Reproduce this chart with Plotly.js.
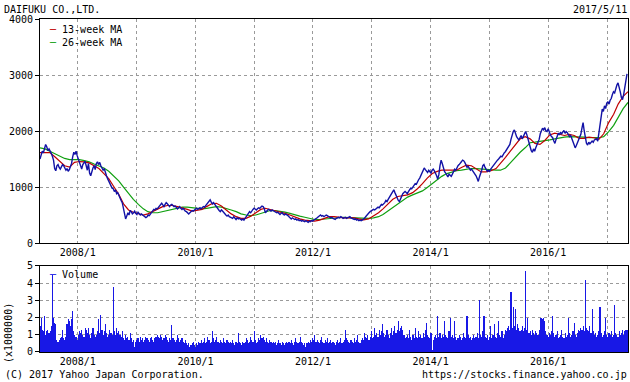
<!DOCTYPE html>
<html><head><meta charset="utf-8">
<script src="https://cdn.plot.ly/plotly-3.0.1.min.js"></script>
<style>html,body{margin:0;padding:0;background:#fff}#chart{width:630px;height:382px}</style>
</head><body><div id="chart"></div>
<script>
const companyName = 'DAIFUKU CO.,LTD.';
const asOfDate = '2017/5/11';
const copyrightText = '(C) 2017 Yahoo Japan Corporation.';
const sourceUrl = 'https://stocks.finance.yahoo.co.jp';
const volumeUnit = '(x1000000)';
const seriesNames = ['13-week MA', '26-week MA', 'Volume'];

// weekly closing price, one week apart, starting 2007-05-11
const firstWeek = [2007, 5, 11];
const closePrice = [
1500,1580,1640,1610,1700,1760,1720,1650,1680,1620,1600,1550,1480,
1330,1290,1380,1400,1350,1320,1360,1400,1380,1340,1300,1330,1280,
1310,1350,1420,1540,1620,1580,1640,1560,1500,1430,1380,1320,1400,
1430,1460,1380,1300,1420,1250,1200,1290,1340,1380,1310,1420,1450,
1400,1440,1380,1350,1300,1330,1250,1200,1150,1100,1080,1000,980,
970,920,950,880,900,840,800,760,720,640,520,430,480,
540,500,580,560,520,540,570,530,510,550,530,500,520,
500,480,470,455,470,500,490,520,560,580,600,590,620,
610,640,660,690,710,680,650,690,720,700,670,650,680,
690,670,650,660,640,610,630,650,620,600,620,590,570,
560,540,520,540,560,580,570,590,600,620,600,610,630,
610,630,650,640,670,700,720,740,770,730,700,720,690,
650,620,600,580,560,590,570,540,520,500,480,500,470,
460,450,440,470,440,420,450,430,440,420,410,430,410,
440,470,500,530,560,540,580,600,620,600,590,610,630,
620,640,660,650,620,540,570,590,600,580,570,590,580,
570,560,540,550,520,510,530,540,510,500,520,510,490,
470,440,430,450,440,420,430,410,420,400,410,390,400,
390,380,400,380,370,390,380,400,390,410,420,430,450,
470,490,500,480,490,470,480,500,490,470,460,450,460,
440,430,420,440,450,460,450,470,460,440,450,460,440,
450,460,470,450,440,430,420,430,410,420,400,410,400,
410,420,440,470,500,520,540,560,570,580,600,590,610,
620,640,630,660,690,680,700,720,760,740,780,820,860,
880,920,950,900,850,800,760,740,800,850,880,900,920,
900,880,920,950,980,970,1000,1030,1060,1050,1100,1130,1160,
1200,1250,1300,1340,1310,1280,1260,1300,1280,1250,1300,1320,1290,
1250,1200,1140,1220,1380,1480,1420,1330,1280,1250,1200,1180,1230,
1210,1190,1230,1280,1320,1300,1350,1380,1400,1420,1450,1480,1470,
1440,1400,1350,1370,1330,1300,1320,1290,1280,1250,1200,1150,1100,
1180,1230,1300,1380,1400,1350,1300,1280,1300,1280,1320,1350,1380,
1400,1430,1450,1480,1500,1530,1550,1540,1580,1610,1630,1660,1700,
1720,1760,1850,1930,1990,2020,1950,1900,1870,1840,1880,1920,1860,
1900,1960,1990,1940,1850,1780,1720,1650,1620,1680,1640,1700,1760,
1780,1850,1950,2000,2050,2020,2060,2000,1990,2040,1970,1930,1900,
1880,1820,1780,1850,1900,1960,1930,1980,1950,1990,2010,1960,1990,
1970,1940,1900,1920,1870,1800,1760,1700,1740,1800,1860,1900,1940,
2050,2150,2000,1850,1780,1750,1800,1770,1790,1820,1800,1840,1850,
1860,1820,1950,2150,2250,2390,2350,2450,2400,2500,2520,2480,2550,
2580,2650,2700,2680,2760,2820,2860,2800,2700,2600,2560,2650,2750,
2900,3020
];

// weekly volume (millions of shares), same weeks as closePrice
const volume = [
1.5,2.0,1.3,1.2,2.1,1.0,1.2,1.3,1.1,1.2,1.5,4.5,2.0,
1.7,1.6,0.7,0.6,0.7,0.8,0.9,1.3,0.8,0.7,0.9,1.6,1.9,
1.8,1.5,1.9,2.4,1.2,1.0,0.9,0.7,1.0,1.2,1.1,1.3,1.0,
0.9,1.4,1.3,1.1,1.4,1.0,0.8,1.1,1.4,1.0,0.9,1.0,1.2,
1.9,1.1,2.15,1.3,1.0,1.2,1.6,1.1,0.9,1.0,1.3,1.1,1.0,
3.8,1.2,1.0,1.4,1.1,1.2,1.0,0.9,1.2,0.8,0.7,1.0,0.8,
0.9,0.7,1.1,0.8,0.6,0.7,0.3,0.6,0.7,0.8,0.6,0.9,0.7,
0.8,0.6,0.7,0.9,0.8,0.7,0.6,0.8,0.9,0.7,0.6,0.8,0.9,
1.0,0.9,0.8,1.0,0.9,0.7,0.8,1.0,0.9,0.7,0.6,0.8,0.7,
1.55,0.8,0.7,0.6,0.7,1.0,0.8,0.6,0.7,0.8,0.6,0.5,0.7,
0.5,0.4,0.5,0.3,0.4,0.5,0.6,0.4,0.3,0.5,0.4,0.6,0.5,
0.7,0.5,0.6,0.8,0.5,0.6,0.9,0.7,0.5,0.6,1.2,0.8,0.6,
0.7,0.9,0.6,0.5,0.7,0.6,0.5,0.8,0.6,0.5,0.7,0.6,0.5,
0.6,0.5,0.7,0.5,0.4,0.6,0.5,1.1,0.6,0.5,0.4,0.6,0.5,
0.6,0.8,0.7,0.5,0.6,0.9,0.7,0.6,1.2,0.7,0.5,0.6,0.8,
0.7,1.0,0.8,0.9,0.7,0.6,0.8,0.6,0.5,0.7,0.6,0.5,0.6,
0.5,0.6,0.4,0.5,0.7,0.5,0.4,0.6,0.5,0.4,0.5,0.6,0.5,
0.6,0.5,0.7,0.5,0.4,0.6,0.8,0.6,0.5,0.6,0.9,0.6,0.5,
0.4,0.5,0.3,0.5,0.6,0.5,0.7,0.6,0.8,0.7,1.0,0.6,0.7,
0.6,0.5,0.7,0.9,0.6,0.5,0.7,0.6,0.8,0.5,0.6,0.7,0.5,
0.6,0.5,0.4,0.6,0.7,0.5,0.6,0.8,0.5,0.6,0.7,1.3,0.8,
0.7,0.6,0.5,0.7,0.6,0.5,0.8,0.6,0.7,1.0,0.6,0.5,0.7,
0.8,0.7,1.1,0.9,0.8,1.0,0.7,0.9,1.2,0.8,0.9,1.4,1.0,
1.1,0.9,1.3,1.0,1.2,1.6,1.1,0.9,1.0,1.3,1.0,0.8,1.1,
1.4,1.0,1.2,1.5,1.1,1.3,1.8,1.2,1.4,1.5,1.3,1.0,0.8,
0.9,1.0,0.8,1.3,0.9,0.7,1.0,0.8,1.4,0.9,0.8,1.2,0.9,
1.0,0.8,1.1,0.9,1.3,1.7,1.0,0.9,0.8,1.1,0.1,0.7,0.9,
1.0,0.8,2.1,0.9,1.1,0.8,1.0,0.9,1.8,1.0,0.9,0.8,1.2,
2.0,0.9,1.0,0.8,1.8,0.9,0.7,0.8,1.0,0.9,0.7,0.8,1.1,
0.9,0.8,2.1,1.0,0.8,0.9,0.7,0.8,1.0,0.8,0.9,1.1,0.8,
3.05,1.0,0.9,1.2,2.1,0.9,0.8,1.0,0.7,0.9,1.5,0.8,1.0,
1.6,0.9,0.8,1.1,1.8,1.0,0.9,1.2,0.8,1.0,1.3,1.2,1.4,
1.5,1.3,3.5,1.4,2.6,1.5,2.5,1.3,1.6,1.4,1.2,1.3,1.5,
1.2,1.4,4.7,1.3,2.0,1.1,1.2,1.0,1.3,1.1,1.0,1.2,1.1,
1.0,1.3,2.0,2.0,1.9,2.0,1.8,1.2,1.0,0.9,1.1,1.0,1.2,
2.1,1.1,0.9,1.0,1.2,0.8,0.9,1.0,1.3,0.9,0.8,1.1,0.9,
1.0,2.0,1.1,0.9,1.0,1.2,1.7,1.0,0.9,1.1,1.3,1.2,1.4,
1.3,1.5,1.2,4.2,1.4,1.3,1.2,1.5,1.1,2.5,1.2,1.0,1.1,
0.9,1.0,1.2,2.6,1.1,0.9,1.0,1.2,2.0,1.0,0.9,1.1,1.0,
1.2,0.9,1.0,2.75,1.1,1.0,0.9,1.2,1.0,1.1,1.3,1.0,1.2,
1.3,1.3
];

// moving averages read monthly (11th of each month), from 2007-05 to 2017-05
const firstMonth = [2007, 5];
const ma13 = [
1615,1615,1615,1540,1455,1380,1355,1440,
1455,1450,1430,1380,1330,1240,1150,1010,870,700,590,550,
530,500,520,560,600,650,670,670,650,630,600,570,
580,600,650,700,710,660,590,520,470,440,440,480,
540,600,620,600,580,550,530,500,460,430,410,395,
390,410,440,470,470,460,450,455,450,430,415,430,
480,540,610,690,780,830,850,860,900,970,1060,1160,
1240,1280,1300,1300,1290,1300,1350,1390,1380,1330,1270,1270,
1290,1330,1420,1530,1640,1760,1860,1900,1860,1780,1760,1830,
1930,1960,1940,1920,1940,1920,1870,1870,1890,1880,1850,1950,
2150,2300,2480,2620,2700
];
const ma26 = [
1700,1680,1640,1600,1550,1510,1490,1490,
1490,1470,1450,1410,1370,1340,1280,1200,1110,1000,880,780,
690,610,560,540,540,560,580,600,620,640,640,630,
620,610,620,640,650,640,620,590,560,520,500,490,
500,530,560,580,580,570,550,530,500,480,460,440,
420,420,430,440,450,460,460,455,450,445,440,440,
450,470,510,570,630,690,760,820,860,890,930,990,
1060,1130,1190,1240,1270,1290,1300,1320,1330,1330,1320,1310,
1300,1300,1300,1340,1430,1530,1620,1700,1790,1800,1810,1820,
1840,1860,1880,1890,1900,1900,1900,1890,1880,1880,1880,1900,
1990,2100,2240,2400,2510
];

const xRange = ['2007-05-11', '2017-05-11'];
const xTickDates = ['2008-01-01','2010-01-01','2012-01-01','2014-01-01','2016-01-01'];
const xTickLabels = ['2008/1','2010/1','2012/1','2014/1','2016/1'];
const yearGridDates = ['2008-01-01','2009-01-01','2010-01-01','2011-01-01','2012-01-01','2013-01-01','2014-01-01','2015-01-01','2016-01-01','2017-01-01'];
const priceTicks = [0, 1000, 2000, 3000, 4000];
const volumeTicks = [0, 1, 2, 3, 4, 5];

function weekDate(i) {
  const d = new Date(Date.UTC(firstWeek[0], firstWeek[1] - 1, firstWeek[2]) + i * 7 * 86400000);
  return d.toISOString().slice(0, 10);
}
function monthDate(i) {
  const m0 = firstMonth[1] - 1 + i;
  const y = firstMonth[0] + Math.floor(m0 / 12);
  const m = (m0 % 12) + 1;
  return y + '-' + String(m).padStart(2, '0') + '-11';
}
const weekDates = closePrice.map((_, i) => weekDate(i));
const volDates = volume.map((_, i) => weekDate(i));
const maDates = ma13.map((_, i) => monthDate(i));

const FONT = 'DejaVu Sans Mono, monospace';
const GRID = '#9a9a9a';

const traces = [
  {x: volDates, y: volume, type: 'bar', xaxis: 'x2', yaxis: 'y2',
   marker: {color: '#1818e6', line: {width: 0}}, hoverinfo: 'skip'},
  {x: maDates, y: ma26, type: 'scatter', mode: 'lines', line: {color: '#10a010', width: 1.2}},
  {x: maDates, y: ma13, type: 'scatter', mode: 'lines', line: {color: '#c00000', width: 1.2}},
  {x: weekDates, y: closePrice, type: 'scatter', mode: 'lines', line: {color: '#1212a6', width: 1.4}}
];

const xCommon = {
  type: 'date', range: xRange, tickmode: 'array', tickvals: xTickDates, ticktext: xTickLabels,
  showgrid: true, gridcolor: GRID, griddash: '3px,3px', gridwidth: 1,
  minor: {tickmode: 'array', tickvals: yearGridDates, showgrid: true, gridcolor: GRID, griddash: '3px,3px', gridwidth: 1, ticks: ''},
  showline: true, mirror: true, linecolor: '#000', linewidth: 1, ticks: '', zeroline: false,
  tickfont: {family: FONT, size: 10, color: '#000'}, fixedrange: true
};

const layout = {
  width: 630, height: 382,
  margin: {l: 40, r: 2, t: 19, b: 30, pad: 0},
  paper_bgcolor: '#fff', plot_bgcolor: '#fff',
  font: {family: FONT, size: 10, color: '#000'},
  showlegend: false, bargap: 0, hovermode: false,
  xaxis: Object.assign({}, xCommon, {anchor: 'y'}),
  xaxis2: Object.assign({}, xCommon, {anchor: 'y2', matches: 'x'}),
  yaxis: {domain: [0.3273, 1], range: [0, 4000], tickmode: 'array', tickvals: priceTicks,
    showgrid: true, gridcolor: GRID, griddash: '3px,3px', showline: true, mirror: true,
    linecolor: '#000', ticks: 'outside', ticklen: 4, tickcolor: '#000', zeroline: false,
    tickfont: {family: FONT, size: 10, color: '#000'}},
  yaxis2: {domain: [0, 0.2583], range: [0, 5], tickmode: 'array', tickvals: volumeTicks,
    showgrid: true, gridcolor: GRID, griddash: '3px,3px', showline: true, mirror: true,
    linecolor: '#000', ticks: 'outside', ticklen: 4, tickcolor: '#000', zeroline: false,
    tickfont: {family: FONT, size: 10, color: '#000'}},
  annotations: [
    {text: companyName, xref: 'paper', yref: 'paper', x: 0, y: 1, xanchor: 'left', yanchor: 'middle', xshift: -38, yshift: 10, showarrow: false},
    {text: asOfDate, xref: 'paper', yref: 'paper', x: 1, y: 1, xanchor: 'right', yanchor: 'middle', xshift: 1, yshift: 10, showarrow: false},
    {text: '<span style="color:#c00000">─</span> ' + seriesNames[0], xref: 'paper', yref: 'paper', x: 0, y: 1, xanchor: 'left', yanchor: 'middle', xshift: 7, yshift: -10, showarrow: false},
    {text: '<span style="color:#10a010">─</span> ' + seriesNames[1], xref: 'paper', yref: 'paper', x: 0, y: 1, xanchor: 'left', yanchor: 'middle', xshift: 7, yshift: -23, showarrow: false},
    {text: '<span style="color:#1818e6">─</span> ' + seriesNames[2], xref: 'paper', yref: 'y2 domain', x: 0, y: 1, xanchor: 'left', yanchor: 'middle', xshift: 7, yshift: -9, showarrow: false},
    {text: volumeUnit, xref: 'paper', yref: 'paper', x: 0, y: 0, xanchor: 'center', yanchor: 'middle', xshift: -32, yshift: 19, textangle: -90, showarrow: false},
    {text: copyrightText, xref: 'paper', yref: 'paper', x: 0, y: 0, xanchor: 'left', yanchor: 'middle', xshift: -37, yshift: -22, showarrow: false},
    {text: sourceUrl, xref: 'paper', yref: 'paper', x: 1, y: 0, xanchor: 'right', yanchor: 'middle', xshift: 1, yshift: -22, showarrow: false}
  ]
};

Plotly.newPlot('chart', traces, layout, {staticPlot: true, displayModeBar: false});
</script>
</body></html>
